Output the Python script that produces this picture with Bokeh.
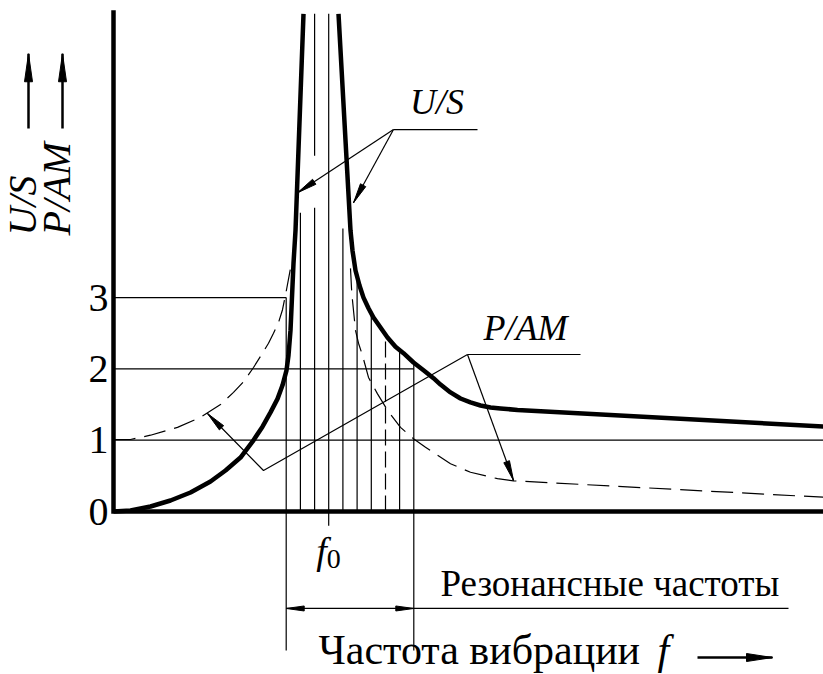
import numpy as np
from bokeh.plotting import figure
from bokeh.models import Range1d
from bokeh.embed import file_html
from bokeh.resources import INLINE
from bokeh.core.properties import value

W, H = 823, 674
X0, X1 = -1.13, 7.10
Y0, Y1 = -2.2861, 7.1669
SX = W / (X1 - X0)
SY = H / (Y1 - Y0)
FONT = value("Liberation Serif")

# ---- data ----
tick_values = [0, 1, 2, 3]
tick_labels = ["0", "1", "2", "3"]

# U/S (thick solid); NaN separates the two flanks of the off-scale peak
us_x = [0.00, 0.17, 0.37, 0.57, 0.77, 0.97, 1.12, 1.27, 1.39, 1.49, 1.57, 1.64, 1.69,
        1.73, 1.75, 1.77, 1.80, 1.82, 1.90,
        np.nan,
        2.25, 2.37, 2.39, 2.42, 2.46, 2.50, 2.55, 2.60, 2.67, 2.74, 2.82, 2.90, 3.00,
        3.10, 3.20, 3.27, 3.37, 3.47, 3.57, 3.67, 3.77, 3.87, 4.04, 7.10]
us_y = [0.00, 0.014, 0.07, 0.154, 0.266, 0.42, 0.575, 0.757, 0.98, 1.19, 1.39, 1.58, 1.77,
        1.98, 2.19, 2.54, 3.48, 3.94, 6.98,
        np.nan,
        6.98, 3.94, 3.66, 3.38, 3.17, 3.00, 2.85, 2.72, 2.58, 2.44, 2.31, 2.22, 2.09,
        1.98, 1.87, 1.78, 1.67, 1.585, 1.53, 1.487, 1.459, 1.445, 1.424, 1.192]

# P/AM (dashed); hidden behind the U/S peak
pam_x = [0.00, 0.17, 0.37, 0.64, 0.87, 1.07, 1.20, 1.30, 1.40, 1.49, 1.55, 1.60, 1.65,
         1.69, 1.73, 1.77,
         np.nan,
         2.37, 2.38, 2.39, 2.42, 2.45, 2.49, 2.55, 2.64, 2.74, 2.87, 3.00, 3.12, 3.24,
         3.37, 3.57, 3.84, 4.00, 7.10]
pam_y = [1.01, 1.01, 1.07, 1.18, 1.32, 1.50, 1.67, 1.82, 2.02, 2.22, 2.36, 2.50, 2.65,
         2.83, 3.11, 3.41,
         np.nan,
         3.41, 3.13, 2.96, 2.54, 2.36, 2.19, 1.88, 1.65, 1.42, 1.18, 1.02, 0.90, 0.79,
         0.67, 0.55, 0.46, 0.43, 0.20]

ref_levels = [1, 2, 3]
ref_ends = [7.10, 3.003, 1.727]

band_x = [1.727, 1.869, 2.011, 2.152, 2.294, 2.436, 2.578, 2.720, 2.861, 3.003]
band_top = [3.00, 4.19, 6.98, 6.98, 3.97, 3.28, 2.78, 2.47, 2.27, 2.06]
band_bottom = [-1.95, 0, 0, -0.20, 0, 0, 0, 0, 0, -1.95]
band_dashed = [False, False, False, False, False, False, False, True, False, False]
band_gap = [None, None, (4.26, 4.99), None, None, None, None, None, None, None]

f0 = 2.152
axis_top = 7.03

us_label = (3.235, 5.75)
us_leader = [(2.80, 5.357), (3.64, 5.357)]
us_tips = [(1.84, 4.47), (2.40, 4.33)]

pam_label = (4.12, 2.58)
pam_leader = [(3.54, 2.202), (4.67, 2.202)]
pam_knee = (1.50, 0.575)
pam_tips = [(0.94, 1.374), (4.00, 0.435)]

dim_y = -1.36
dim_line_end = 6.75
res_label = (3.27, -1.01)
f0_label_y = -0.55

xlabel_pos = (2.05, -1.94)
xlabel_f = 5.44
xarrow = [(5.84, -2.048), (6.59, -2.048)]
yarrows_x = [-0.85, -0.51]
yarrows_y = [5.37, 6.42]
ylabels = [("U/S", -0.915), ("P/AM", -0.575)]
ylabel_base = 3.871


def head(tip, tail, length, width):
    tx, ty = tip[0] * SX, tip[1] * SY
    ux, uy = tail[0] * SX, tail[1] * SY
    dx, dy = ux - tx, uy - ty
    n = np.hypot(dx, dy)
    dx, dy = dx / n, dy / n
    bx, by = tx + dx * length, ty + dy * length
    nx, ny = -dy, dx
    xs = [tx, bx + nx * width / 2, bx - nx * width / 2]
    ys = [ty, by + ny * width / 2, by - ny * width / 2]
    return [v / SX for v in xs], [v / SY for v in ys]


p = figure(width=W, height=H, x_range=Range1d(X0, X1), y_range=Range1d(Y0, Y1),
           output_backend="svg", toolbar_location=None, min_border=0,
           x_axis_location=None, y_axis_location=None)
p.grid.visible = False
p.outline_line_color = None
p.background_fill_color = "white"
p.border_fill_color = "white"

BLACK = "black"
THIN = 1.2


def txt(x, y, s, size, italic=False, align="left", angle=0.0):
    p.text(x=[x], y=[y], text=[s], text_font=FONT, text_font_size=size,
           text_font_style="italic" if italic else "normal", text_align=align,
           text_baseline="middle", angle=angle, text_color=BLACK)


# reference horizontal lines
p.segment(x0=[0] * 3, y0=ref_levels, x1=ref_ends, y1=ref_levels, line_color=BLACK, line_width=THIN)

# band vertical lines
sx0, sy0, sx1, sy1 = [], [], [], []
dx0, dy0, dx1, dy1 = [], [], [], []
for x, t, b, d, g in zip(band_x, band_top, band_bottom, band_dashed, band_gap):
    if d:
        dx0.append(x); dy0.append(b); dx1.append(x); dy1.append(t)
    elif g is not None:
        sx0 += [x, x]; sy0 += [b, g[1]]; sx1 += [x, x]; sy1 += [g[0], t]
    else:
        sx0.append(x); sy0.append(b); sx1.append(x); sy1.append(t)
p.segment(x0=sx0, y0=sy0, x1=sx1, y1=sy1, line_color=BLACK, line_width=THIN)
p.segment(x0=dx0, y0=dy0, x1=dx1, y1=dy1, line_color=BLACK, line_width=THIN, line_dash="16 6")

# P/AM dashed curve
p.line(pam_x, pam_y, line_color=BLACK, line_width=THIN, line_dash="22 9")

# U/S thick curve
p.line(us_x, us_y, line_color=BLACK, line_width=4.5, line_join="round")

# axes
p.line([0, 0, X1], [axis_top, 0, 0], line_color=BLACK, line_width=4.5, line_join="miter")

# tick labels
p.text(x=[-0.05] * 4, y=tick_values, text=tick_labels, text_font=FONT, text_font_size="40px",
       text_align="right", text_baseline="middle", text_color=BLACK)

hx, hy = [], []

# U/S leader
p.line([us_leader[0][0], us_leader[1][0]], [us_leader[0][1], us_leader[1][1]], line_color=BLACK, line_width=THIN)
for tip in us_tips:
    p.line([us_leader[0][0], tip[0]], [us_leader[0][1], tip[1]], line_color=BLACK, line_width=THIN)
    a, b = head(tip, us_leader[0], 20, 6)
    hx.append(a); hy.append(b)
txt(us_label[0], us_label[1], "U/S", "36px", italic=True, align="center")

# P/AM leader
p.line([pam_leader[0][0], pam_leader[1][0]], [pam_leader[0][1], pam_leader[1][1]], line_color=BLACK, line_width=THIN)
p.line([pam_leader[0][0], pam_knee[0], pam_tips[0][0]], [pam_leader[0][1], pam_knee[1], pam_tips[0][1]],
       line_color=BLACK, line_width=THIN)
a, b = head(pam_tips[0], pam_knee, 20, 6); hx.append(a); hy.append(b)
p.line([pam_leader[0][0], pam_tips[1][0]], [pam_leader[0][1], pam_tips[1][1]], line_color=BLACK, line_width=THIN)
a, b = head(pam_tips[1], pam_leader[0], 20, 6); hx.append(a); hy.append(b)
txt(pam_label[0], pam_label[1], "P/AM", "36px", italic=True, align="center")

# resonance dimension
p.line([band_x[0], dim_line_end], [dim_y, dim_y], line_color=BLACK, line_width=THIN)
a, b = head((band_x[0], dim_y), (band_x[-1], dim_y), 18, 5); hx.append(a); hy.append(b)
a, b = head((band_x[-1], dim_y), (band_x[0], dim_y), 18, 5); hx.append(a); hy.append(b)
txt(res_label[0], res_label[1], "Резонансные частоты", "37px")

# f0 label
txt(f0 - 0.02, f0_label_y, "f", "38px", italic=True, align="right")
txt(f0 - 0.02, f0_label_y - 0.12, "0", "28px")

# x label
txt(xlabel_pos[0], xlabel_pos[1], "Частота вибрации", "42px")
txt(xlabel_f, xlabel_pos[1], "f", "42px", italic=True)
p.line([xarrow[0][0], xarrow[1][0]], [xarrow[0][1], xarrow[1][1]], line_color=BLACK, line_width=2.5)
a, b = head(xarrow[1], xarrow[0], 26, 8); hx.append(a); hy.append(b)

# y arrows and labels
for xa in yarrows_x:
    p.line([xa, xa], yarrows_y, line_color=BLACK, line_width=2.5)
    a, b = head((xa, yarrows_y[1]), (xa, yarrows_y[0]), 28, 8); hx.append(a); hy.append(b)
for s, xl in ylabels:
    txt(xl, ylabel_base, s, "40px", italic=True, align="left", angle=np.pi / 2)

p.patches(xs=hx, ys=hy, fill_color=BLACK, line_color=BLACK, line_width=1)

open("out.html", "w").write(file_html(p, INLINE))
